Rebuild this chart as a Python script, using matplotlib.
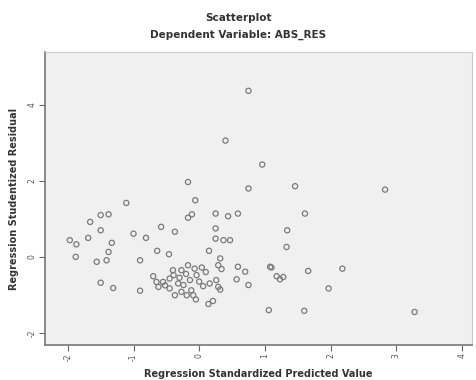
import matplotlib.pyplot as plt

# predicted (x) and studentized residual (y) values
pred = [0.75, 0.40, 0.96, 1.46, 0.75, 2.83, -0.17, -1.11, -0.06, 1.61,
        -1.38, -1.50, -1.66, -0.17, -0.11, 0.25, 0.44, 0.59, -1.50, -0.58,
        -0.37, -1.00, -0.81, 0.25, 0.25, 0.37, 0.47, -1.69, -1.97, -1.87,
        -1.33, -1.38, -0.64, -0.46, 0.15, -1.88, -1.56, -1.41, -0.90, 0.32,
        0.29, 0.34, 0.59, 0.70, -0.17, -0.07, 0.04, -0.40, -0.27, -0.39,
        -0.45, -0.70, -0.14, -0.04, 0.06, 0.16, 0.26, 0.29, 0.32, 0.57,
        0.75, -0.65, -0.55, -0.62, -0.45, -0.37, -0.32, -0.24, -0.27, -0.19,
        -0.12, -0.09, -0.05, 0.14, 0.21, -1.50, -1.31, -0.90, 1.06, 1.08,
        1.34, 1.33, 1.10, 1.18, 1.28, 1.23, 1.66, 2.18, 1.97, 1.60,
        3.28, -0.30, -0.20, -0.52, 0.10, 0.00]
resid = [4.37, 3.06, 2.43, 1.86, 1.80, 1.77, 1.97, 1.42, 1.49, 1.14,
         1.12, 1.10, 0.92, 1.03, 1.12, 1.14, 1.07, 1.14, 0.70, 0.79,
         0.66, 0.61, 0.50, 0.75, 0.48, 0.44, 0.44, 0.50, 0.44, 0.33,
         0.37, 0.13, 0.16, 0.07, 0.16, 0.00, -0.13, -0.09, -0.09, -0.04,
         -0.22, -0.32, -0.26, -0.39, -0.22, -0.31, -0.28, -0.35, -0.35, -0.48,
         -0.57, -0.51, -0.61, -0.48, -0.77, -0.70, -0.61, -0.79, -0.86, -0.59,
         -0.74, -0.66, -0.66, -0.79, -0.83, -1.01, -0.70, -0.74, -0.92, -1.01,
         -0.88, -1.01, -1.12, -1.24, -1.16, -0.68, -0.82, -0.89, -1.40, -0.26,
         0.70, 0.26, -0.28, -0.51, -0.53, -0.59, -0.37, -0.31, -0.83, -1.42,
         -1.45, -0.55, -0.45, -0.75, -0.40, -0.65]

xticks = [-2, -1, 0, 1, 2, 3, 4]
yticks = [-2, 0, 2, 4]

fig = plt.figure(figsize=(4.77, 3.80), dpi=100)
ax = fig.add_axes([0.094, 0.092, 0.895, 0.771])
ax.set_facecolor('#f0f0f0')

ax.scatter(pred, resid, s=14, facecolors='none', edgecolors='#7a7a7a', linewidths=0.9)

ax.set_xlim(-2.35, 4.15)
ax.set_ylim(-2.32, 5.39)
ax.set_xticks(xticks)
ax.set_yticks(yticks)
ax.set_xticklabels([str(t) for t in xticks], rotation=90, fontsize=5.5, color='#555555')
ax.set_yticklabels([str(t) for t in yticks], rotation=90, fontsize=5.5, color='#555555', va='center')
ax.tick_params(length=4, width=0.8, color='#666666', pad=2)

for side in ['left', 'bottom']:
    ax.spines[side].set_color('#777777')
    ax.spines[side].set_linewidth(1.2)
for side in ['top', 'right']:
    ax.spines[side].set_color('#cccccc')
    ax.spines[side].set_linewidth(0.8)

ax.set_xlabel('Regression Standardized Predicted Value', fontsize=7, fontweight='bold', color='#333333', labelpad=6)
ax.set_ylabel('Regression Studentized Residual', fontsize=7, fontweight='bold', color='#333333', labelpad=6)

fig.text(0.5, 0.952, 'Scatterplot', ha='center', va='center', fontsize=7.5, fontweight='bold', color='#333333')
fig.text(0.5, 0.907, 'Dependent Variable: ABS_RES', ha='center', va='center', fontsize=7.5, fontweight='bold', color='#333333')

fig.savefig('out.png', dpi=100)
